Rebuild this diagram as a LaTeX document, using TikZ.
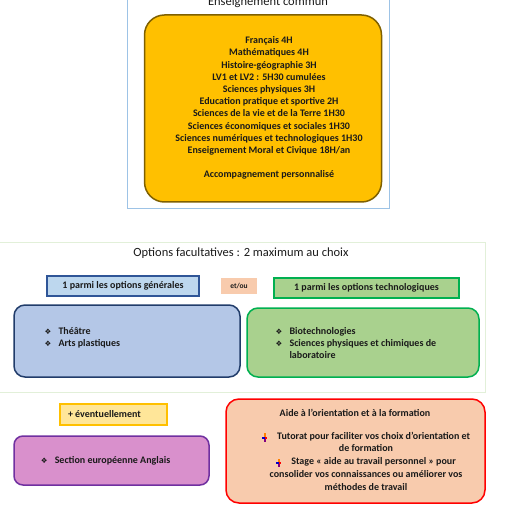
\documentclass[tikz,border=0pt]{standalone}
\usepackage{fontspec}
\setmainfont{Carlito}
\newfontfamily\symfont{DejaVu Sans}
\usetikzlibrary{positioning}
\definecolor{cadreblue}{HTML}{9DC3E6}
\definecolor{communfill}{HTML}{FFC000}
\definecolor{communline}{HTML}{7F6000}
\definecolor{optframe}{HTML}{E2F0D9}
\definecolor{genfill}{HTML}{B4C7E7}
\definecolor{genfillsmall}{HTML}{BDD7EE}
\definecolor{genline}{HTML}{2F5597}
\definecolor{techfill}{HTML}{A9D18E}
\definecolor{techline}{HTML}{00B050}
\definecolor{etoufill}{HTML}{F8CBAD}
\definecolor{eventfill}{HTML}{FFE699}
\definecolor{eventline}{HTML}{FFC000}
\definecolor{eurofill}{HTML}{D990CC}
\definecolor{euroline}{HTML}{7030A0}
\definecolor{aidefill}{HTML}{F8CBAD}
\definecolor{aideline}{HTML}{FF0000}
\definecolor{textdark}{HTML}{1A1A1A}
\newcommand{\optbullet}{{\symfont\fontsize{7.5}{7.5}\selectfont ❖}}
\newcommand{\aidebullet}{\tikz[baseline=-1.5pt,x=1pt,y=1pt]{%
  \fill[orange] (-0.4,1) rectangle (1.4,4.2);
  \fill[blue!80!black] (-2.6,-1) rectangle (0,1);
  \fill[red] (0,-1) rectangle (2.6,1);
  \fill[violet] (-0.4,-4) rectangle (1.4,-1);}}

\begin{document}
\begin{tikzpicture}[x=1pt,y=-1pt,
  every node/.style={font=\fontsize{10}{12.2}\selectfont\bfseries,text=textdark},
  titlefont/.style={font=\fontsize{12.5}{14}\selectfont},
  frame/.style={draw=#1,line width=0.8pt,inner sep=0pt},
  box/.style={draw=#1,line width=1.5pt,inner sep=0pt},
  smallbox/.style={line width=1.2pt,inner sep=0pt}]
  \clip (0,0) rectangle (510,510);
  % enseignement commun
  \node[frame=cadreblue,minimum width=262,minimum height=220] (cadre) at (258,98) {};
  \node[titlefont,anchor=base] (titre) at (268,5.5) {Enseignement commun};
  \node[box=communline,fill=communfill,rounded corners=20pt,minimum width=237,minimum height=187] (commun) at (263,108.5) {};
  \node[align=center] (matieres) at (269,108) {Français 4H\\ Mathématiques 4H\\ Histoire-géographie 3H\\
    LV1 et LV2 : 5H30 cumulées\\ Sciences physiques 3H\\ Education pratique et sportive 2H\\
    Sciences de la vie et de la Terre 1H30\\ Sciences économiques et sociales 1H30\\
    Sciences numériques et technologiques 1H30\\ Enseignement Moral et Civique 18H/an\\[12pt]
    Accompagnement personnalisé};
  % options facultatives
  \node[frame=optframe,minimum width=487,minimum height=150] (options) at (241.5,317) {};
  \node[titlefont] (optitre) at (241,253) {Options facultatives : 2 maximum au choix};
  \node[smallbox,draw=genline,fill=genfillsmall,minimum width=152,minimum height=20] (generales) at (123,286) {1 parmi les options générales};
  \node[fill=etoufill,minimum width=36,minimum height=16,inner sep=0pt,font=\fontsize{7.5}{9}\selectfont\bfseries] (etou) at (239,286) {et/ou};
  \node[smallbox,draw=techline,fill=techfill,minimum width=185,minimum height=20] (techno) at (366.5,288) {1 parmi les options technologiques};
  \node[box=genline!70!black,fill=genfill,rounded corners=11pt,minimum width=226,minimum height=72] (genbox) at (127,341) {};
  \node[anchor=west,align=left] (genliste) at (41,338) {\makebox[14pt][l]{\optbullet}Théâtre\\ \makebox[14pt][l]{\optbullet}Arts plastiques};
  \node[box=techline,fill=techfill,rounded corners=11pt,minimum width=232,minimum height=69] (techbox) at (363,342.5) {};
  \node[anchor=west,align=left] (techliste) at (272,343) {\makebox[14pt][l]{\optbullet}Biotechnologies\\
    \makebox[14pt][l]{\optbullet}Sciences physiques et chimiques de\\ \hspace*{14pt}laboratoire};
  % eventuellement
  \node[smallbox,draw=eventline,fill=eventfill,minimum width=107,minimum height=21] (event) at (113.5,414.5) {\makebox[91pt][l]{+ éventuellement}};
  \node[box=euroline,fill=eurofill,rounded corners=9pt,minimum width=195,minimum height=49] (euro) at (111.5,460.5) {\makebox[14pt][l]{\optbullet}Section européenne Anglais\hspace*{12pt}};
  % aide
  \node[box=aideline,fill=aidefill,rounded corners=13pt,minimum width=259,minimum height=104] (aide) at (355.5,451) {};
  \node (aidetitre) at (355,413) {Aide à l'orientation et à la formation};
  \node[align=center,font=\fontsize{10}{12.8}\selectfont\bfseries] (aideliste) at (366,461) {\aidebullet\quad Tutorat pour faciliter vos choix d'orientation et\\
    de formation\\ \aidebullet\quad Stage « aide au travail personnel » pour\\
    consolider vos connaissances ou améliorer vos\\ méthodes de travail};
\end{tikzpicture}
\end{document}
